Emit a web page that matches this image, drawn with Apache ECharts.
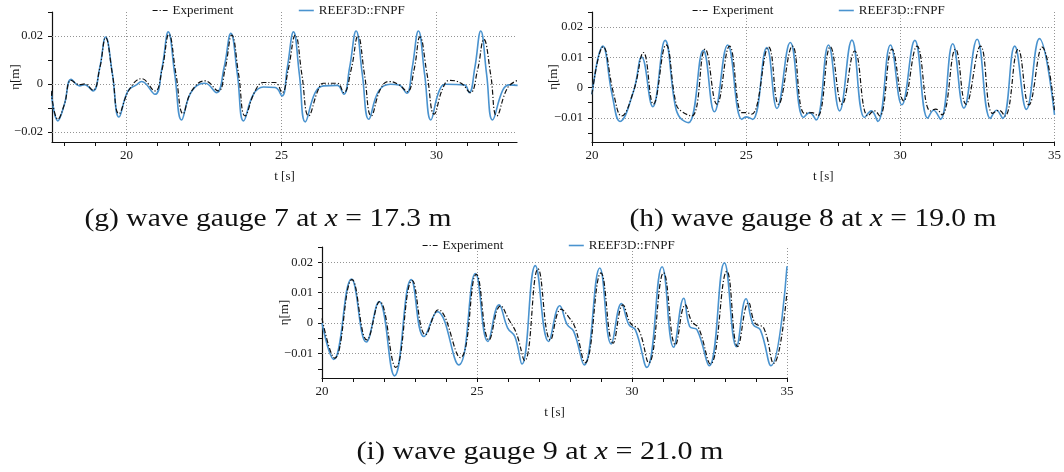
<!DOCTYPE html>
<html>
<head>
<meta charset="utf-8">
<script src="https://cdn.jsdelivr.net/npm/echarts@6/dist/echarts.min.js"></script>
<style>
html,body{margin:0;padding:0;background:#fff;}
#chart{width:1064px;height:472px;}
</style>
</head>
<body>
<div id="chart"></div>
<script>
// ---------- data (t [s], eta [m]) ----------
// (g) wave gauge 7
const gT_exp = [17.57,17.79,18.00,18.22,18.49,18.65,18.92,19.14,19.33,19.55,19.76,20.10,20.49,20.92,21.15,21.37,21.60,21.83,22.10,22.54,22.96,23.18,23.40,23.62,23.83,24.15,24.42,24.80,25.02,25.22,25.45,25.66,25.88,26.20,26.36,26.80,27.01,27.25,27.47,27.68,27.90,28.20,28.47,28.79,29.06,29.28,29.47,29.70,29.93,30.20,30.42,30.80,31.09,31.33,31.53,31.75,31.95,32.30,32.62];
const gE_exp = [-0.0029,-0.0147,-0.0085,0.0015,-0.0003,0.0000,-0.0026,0.0065,0.0193,0.004,-0.0124,-0.0022,0.0022,-0.0029,0.006,0.0207,0.004,-0.0124,-0.003,0.0013,-0.0029,0.006,0.0204,0.004,-0.0133,-0.003,0.0006,0.0006,-0.0036,0.006,0.0204,0.004,-0.0133,-0.002,0.0003,0.0003,-0.0036,0.006,0.02,0.004,-0.0133,-0.002,0.001,-0.0003,-0.0032,0.006,0.0196,0.004,-0.0126,-0.002,0.0015,0.0003,-0.0036,0.006,0.0186,0.004,-0.0133,-0.0015,0.0015];
const gT_num = [17.57,17.79,18.00,18.22,18.49,18.65,18.92,19.14,19.33,19.55,19.76,20.05,20.32,20.49,20.92,21.15,21.35,21.56,21.78,22.05,22.37,22.54,22.91,23.15,23.37,23.58,23.78,24.10,24.42,24.80,25.02,25.19,25.39,25.58,25.77,26.09,26.36,26.80,27.01,27.20,27.41,27.61,27.82,28.14,28.52,28.79,29.04,29.22,29.42,29.62,29.82,30.09,30.31,30.90,31.06,31.24,31.43,31.62,31.81,32.14,32.35,32.62];
const gE_num = [-0.0029,-0.0154,-0.0085,0.0019,-0.0008,-0.0003,-0.0029,0.0068,0.0196,0.004,-0.0138,-0.0029,-0.0004,0.001,-0.0043,0.0068,0.0217,0.004,-0.015,-0.0043,0,0.0003,-0.0036,0.0068,0.0211,0.004,-0.0154,-0.0043,-0.0013,-0.0015,-0.005,0.0068,0.0217,0.004,-0.0158,-0.0036,-0.0008,-0.0006,-0.0043,0.0068,0.0221,0.004,-0.0147,-0.0029,-0.0001,-0.0004,-0.0039,0.0068,0.0221,0.004,-0.015,-0.0029,-0.0001,-0.0004,-0.0036,0.0068,0.0221,0.004,-0.015,-0.0026,-0.0004,-0.0006];

// (h) wave gauge 8
const hT_exp = [20.00,20.36,20.70,20.96,21.35,21.67,21.99,22.40,22.73,22.91,23.24,23.67,24.05,24.46,24.86,25.00,25.18,25.73,26.05,26.50,26.89,27.14,27.32,27.73,28.11,28.52,28.95,29.16,29.33,29.73,30.11,30.54,30.97,31.15,31.35,31.79,32.13,32.60,32.99,33.20,33.39,33.82,34.17,34.60,35.00];
const hE_exp = [-0.0022,0.0135,-0.002,-0.0094,-0.0011,0.0116,-0.0055,0.0141,-0.0055,-0.0079,-0.0094,0.0127,-0.0055,0.0137,-0.0083,-0.0083,-0.0088,0.0134,-0.0055,0.0137,-0.0085,-0.0083,-0.0094,0.0135,-0.0055,0.0121,-0.0094,-0.0077,-0.0094,0.0127,-0.0044,0.0137,-0.0077,-0.0071,-0.009,0.0127,-0.0055,0.0137,-0.0085,-0.0075,-0.0094,0.0127,-0.0057,0.0134,-0.0075];
const hT_num = [20.00,20.35,20.65,20.91,21.35,21.61,21.97,22.37,22.69,22.85,23.13,23.61,23.97,24.40,24.86,25.00,25.21,25.67,26.00,26.43,26.86,27.06,27.27,27.67,28.03,28.43,28.84,29.06,29.27,29.68,30.05,30.47,30.89,31.08,31.30,31.70,32.06,32.49,32.92,33.12,33.32,33.71,34.09,34.51,35.00];
const hE_num = [-0.0022,0.0137,-0.0022,-0.0112,-0.0011,0.0101,-0.0063,0.0156,-0.0055,-0.0099,-0.0116,0.0123,-0.008,0.0141,-0.0105,-0.0097,-0.0105,0.0132,-0.0069,0.0149,-0.0099,-0.0083,-0.0107,0.0141,-0.0077,0.0157,-0.0099,-0.0077,-0.0112,0.0141,-0.0057,0.0156,-0.0101,-0.0075,-0.0105,0.0145,-0.0068,0.016,-0.0102,-0.0075,-0.0102,0.0137,-0.0072,0.0162,-0.009];

// (i) wave gauge 9
const iT_exp = [20.00,20.41,20.97,21.45,21.86,22.38,22.91,23.34,23.75,24.46,24.98,25.39,25.76,26.03,26.27,26.54,26.97,27.37,27.71,27.96,28.17,28.49,29.00,29.39,29.71,29.95,30.22,30.54,31.02,31.40,31.72,31.93,32.15,32.53,33.06,33.41,33.76,33.97,34.25,34.57,35.00];
const iE_exp = [0.0016,-0.0115,0.0143,-0.0055,0.0071,-0.0145,0.014,-0.0038,0.0044,-0.0113,0.016,-0.0055,0.0057,0.0011,-0.0033,-0.0123,0.0178,-0.0055,0.0046,0.002,-0.0016,-0.013,0.0165,-0.0066,0.006,0.0,-0.0022,-0.013,0.0165,-0.0071,0.006,0.0005,-0.0016,-0.0134,0.017,-0.0077,0.0068,0.0,-0.0016,-0.0132,0.0104];
const iT_num = [20.00,20.38,20.95,21.43,21.84,22.34,22.88,23.29,23.72,24.41,24.95,25.35,25.71,25.99,26.22,26.45,26.88,27.31,27.67,27.91,28.12,28.46,28.96,29.33,29.66,29.90,30.11,30.48,30.97,31.34,31.67,31.86,32.10,32.49,32.98,33.37,33.68,33.91,34.14,34.48,35.00];
const iE_num = [0.0,-0.0119,0.0145,-0.0062,0.0071,-0.0173,0.0143,-0.0044,0.0038,-0.0137,0.0163,-0.006,0.006,-0.0016,-0.0044,-0.0134,0.0189,-0.006,0.0057,-0.0005,-0.0027,-0.0137,0.0181,-0.0068,0.0064,-0.0005,-0.0022,-0.0145,0.0185,-0.0079,0.0082,-0.0011,-0.0022,-0.014,0.0198,-0.0077,0.008,-0.0005,-0.0022,-0.014,0.0187];

// axis ticks / labels
const gXTicks = [18,19,20,21,22,23,24,25,26,27,28,29,30,31,32];
const gXLabels = [20,25,30];
const hiXTicks = [20,21,22,23,24,25,26,27,28,29,30,31,32,33,34,35];
const hiXLabels = [20,25,30,35];
const gYTicks = [-0.02,-0.01,0,0.01,0.02,0.03];
const gYLabels = [-0.02,0,0.02];
const hiYTicks = [-0.015,-0.01,-0.005,0,0.005,0.01,0.015,0.02,0.025];
const hiYLabels = [-0.01,0,0.01,0.02];
const gGridX = [20,25,30];
const gGridY = [-0.02,0,0.02];
const hiGridX = [25,30,35];
const hiGridY = [-0.01,0,0.01,0.02];

const seriesNames = ['Experiment','REEF3D::FNPF'];
const captions = [
  ['(g) wave gauge 7 at ', 'x', ' = 17.3 m'],
  ['(h) wave gauge 8 at ', 'x', ' = 19.0 m'],
  ['(i) wave gauge 9 at ', 'x', ' = 21.0 m']
];

// ---------- build ----------
const zip = (a, b) => a.map((t, i) => [t, b[i]]);
const SERIF = '"Liberation Serif", "Times New Roman", serif';
const TXT = '#1a1a1a';
const BLUE = '#4a93cf';
const BLACK = '#111';
const lineStyles = [
  {color:BLACK, width:1.2, type:[5,2,1.2,2]},
  {color:BLUE, width:1.6, type:'solid'}
];

function fmtY(v){
  const r = Math.round(v*1000)/1000;
  if (r === 0) return '0';
  return (r < 0 ? '\u2212' : '') + String(Math.abs(r));
}

const panels = [
  {grid:{left:52, top:12, width:465, height:130}, xmin:17.6, xmax:32.6, ymin:-0.0242, ymax:0.03,
   xt:gXTicks, xl:gXLabels, yt:gYTicks, yl:gYLabels, gx:gGridX, gy:gGridY,
   exp:zip(gT_exp,gE_exp), num:zip(gT_num,gE_num), legL:[152,298], legT:4, yGap:30},
  {grid:{left:592, top:12, width:465, height:130}, xmin:20, xmax:35, ymin:-0.018, ymax:0.025,
   xt:hiXTicks, xl:hiXLabels, yt:hiYTicks, yl:hiYLabels, gx:hiGridX, gy:hiGridY,
   exp:zip(hT_exp,hE_exp), num:zip(hT_num,hE_num), legL:[692,838], legT:4, yGap:32},
  {grid:{left:322, top:247, width:465, height:131}, xmin:20, xmax:35, ymin:-0.018, ymax:0.025,
   xt:hiXTicks, xl:hiXLabels, yt:hiYTicks, yl:hiYLabels, gx:hiGridX, gy:hiGridY,
   exp:zip(iT_exp,iE_exp), num:zip(iT_num,iE_num), legL:[422,568], legT:239, yGap:31}
];

const grid = [], xAxis = [], yAxis = [], series = [], legend = [];
const axisLine = {show:true, onZero:false, lineStyle:{color:'#111', width:1.2}};
panels.forEach((p, k) => {
  grid.push(Object.assign({containLabel:false}, p.grid));
  xAxis.push({
    type:'value', gridIndex:k, min:p.xmin, max:p.xmax,
    name:'t [s]', nameLocation:'middle', nameGap:28, nameMoveOverlap:false,
    nameTextStyle:{fontFamily:SERIF, fontSize:13, color:TXT},
    axisLine:axisLine,
    axisTick:{show:true, customValues:p.xt, length:4, lineStyle:{color:'#111', width:1}},
    axisLabel:{show:true, customValues:p.xl, margin:7, fontFamily:SERIF, fontSize:13, color:TXT,
      formatter:v => String(Math.round(v))},
    splitLine:{show:false}
  });
  yAxis.push({
    type:'value', gridIndex:k, min:p.ymin, max:p.ymax,
    name:'\u03b7[m]', nameLocation:'middle', nameGap:p.yGap, nameRotate:90, nameMoveOverlap:false,
    nameTextStyle:{fontFamily:SERIF, fontSize:13, color:TXT},
    axisLine:axisLine,
    axisTick:{show:true, customValues:p.yt, length:4, lineStyle:{color:'#111', width:1}},
    axisLabel:{show:true, customValues:p.yl, margin:9, fontFamily:SERIF, fontSize:12.5, color:TXT,
      formatter:fmtY},
    splitLine:{show:false}
  });
  series.push({
    type:'line', name:seriesNames[0], xAxisIndex:k, yAxisIndex:k, data:p.exp,
    symbol:'none', showSymbol:false, smooth:0.45, z:4, clip:true,
    lineStyle:lineStyles[0], itemStyle:{color:BLACK},
    markLine:{
      silent:true, symbol:['none','none'], z:1, animation:false,
      label:{show:false},
      lineStyle:{color:'#888', width:0.9, type:[1,2]},
      emphasis:{disabled:true},
      data:p.gy.map(v => ({yAxis:v})).concat(p.gx.map(v => ({xAxis:v})))
    }
  });
  series.push({
    type:'line', name:seriesNames[1], xAxisIndex:k, yAxisIndex:k, data:p.num,
    symbol:'none', showSymbol:false, smooth:0.45, z:3, clip:true,
    lineStyle:lineStyles[1], itemStyle:{color:BLUE}
  });
  seriesNames.forEach((nm, j) => {
    legend.push({
      data:[nm], left:p.legL[j], top:p.legT, padding:0, itemWidth:15, itemHeight:10,
      selectedMode:false,
      itemStyle:{opacity:0, color:'rgba(0,0,0,0)', borderWidth:0},
      lineStyle:Object.assign({}, lineStyles[j]),
      textStyle:{fontFamily:SERIF, fontSize:13, color:TXT}
    });
  });
});

// captions (stretched horizontally to LaTeX width)
const capFont = 25;
const ctx = document.createElement('canvas').getContext('2d');
function capWidth(parts){
  ctx.font = capFont + 'px "Liberation Serif"';
  let w = ctx.measureText(parts[0]).width + ctx.measureText(parts[2]).width;
  ctx.font = 'italic ' + capFont + 'px "Liberation Serif"';
  w += ctx.measureText(parts[1]).width;
  return w;
}
const capPos = [[268,219],[813,219],[540,452]];
const capTargetW = 367;
const graphic = captions.map((parts, k) => ({
  type:'text', x:capPos[k][0], y:capPos[k][1], scaleX: capTargetW / capWidth(parts), silent:true,
  style:{
    text: parts[0] + '{it|' + parts[1] + '}' + parts[2],
    fontFamily:SERIF, fontSize:capFont, fill:'#111',
    align:'center', verticalAlign:'middle',
    rich:{it:{fontStyle:'italic', fontFamily:SERIF, fontSize:capFont, fill:'#111'}}
  }
}));

const chart = echarts.init(document.getElementById('chart'), null, {renderer:'canvas'});
chart.setOption({
  animation:false,
  backgroundColor:'#fff',
  grid, xAxis, yAxis, series, legend, graphic
});
</script>
</body>
</html>
